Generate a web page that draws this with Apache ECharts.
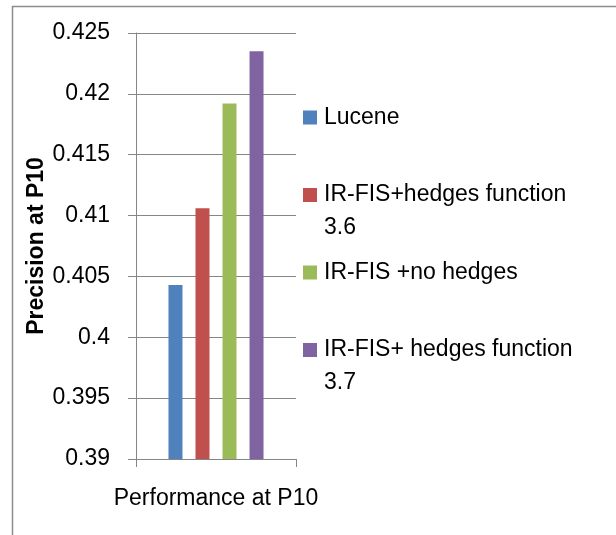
<!DOCTYPE html>
<html>
<head>
<meta charset="utf-8">
<script src="https://cdn.jsdelivr.net/npm/echarts@6/dist/echarts.min.js"></script>
<style>
  html, body { margin: 0; padding: 0; background: #ffffff; }
  #chart { width: 616px; height: 535px; }
</style>
</head>
<body>
<div id="chart"></div>
<script>
// Precision at P10 for each retrieval configuration
const categories = ['Performance at P10'];
const seriesNames = [
  'Lucene',
  'IR-FIS+hedges function 3.6',
  'IR-FIS +no hedges',
  'IR-FIS+ hedges function 3.7'
];
const luceneValues = [0.4043];
const hedges36Values = [0.4106];
const noHedgesValues = [0.4192];
const hedges37Values = [0.4235];
const seriesColors = ['#4F81BD', '#C0504D', '#9BBB59', '#8064A2'];

const FONT = '"Liberation Sans", Arial, sans-serif';
const GRAY = '#868686';
const LINE_H = 33;

const valueSets = [luceneValues, hedges36Values, noHedgesValues, hedges37Values];

// Long names wrap their version number onto a second line; a leading blank
// line keeps the first text line level with the legend swatch.
const legendText = name => {
  const wrapped = name.replace(/ (\d\.\d)$/, '\n$1');
  return wrapped.indexOf('\n') >= 0 ? '\n' + wrapped : wrapped;
};

const chart = echarts.init(document.getElementById('chart'), null, { renderer: 'canvas' });

chart.setOption({
  animation: false,
  backgroundColor: '#ffffff',
  color: seriesColors,
  grid: { left: 136, top: 33, width: 160, height: 426, containLabel: false },
  graphic: [{
    type: 'rect',
    shape: { x: 12.5, y: 6.5, width: 700, height: 700 },
    style: { fill: 'none', stroke: '#8c8c8c', lineWidth: 1.5 },
    silent: true
  }],
  legend: {
    orient: 'vertical',
    left: 303,
    top: 101,
    padding: 0,
    itemWidth: 14,
    itemHeight: 14,
    itemGap: 11.5,
    icon: 'rect',
    formatter: legendText,
    textStyle: { fontFamily: FONT, fontSize: 23, color: '#000000', lineHeight: LINE_H, padding: [0, 0, 0, 2] },
    data: seriesNames
  },
  xAxis: {
    type: 'category',
    data: categories,
    axisLine: { lineStyle: { color: GRAY, width: 1 } },
    axisTick: { show: true, length: 8, lineStyle: { color: GRAY } },
    axisLabel: { fontFamily: FONT, fontSize: 23, color: '#000000', margin: 28 },
    splitLine: { show: false }
  },
  yAxis: {
    type: 'value',
    min: 0.39,
    max: 0.425,
    interval: 0.005,
    name: 'Precision at P10',
    nameLocation: 'middle',
    nameGap: 87,
    nameTextStyle: { fontFamily: FONT, fontSize: 23, fontWeight: 'bold', color: '#000000' },
    axisLine: { show: true, lineStyle: { color: GRAY, width: 1 } },
    axisTick: { show: true, length: 8, lineStyle: { color: GRAY } },
    axisLabel: { fontFamily: FONT, fontSize: 23, color: '#000000', margin: 26 },
    splitLine: { show: true, lineStyle: { color: GRAY, width: 1 } }
  },
  series: seriesNames.map((name, i) => ({
    name: name,
    type: 'bar',
    data: valueSets[i],
    barWidth: 14,
    barGap: '93%',
    itemStyle: { color: seriesColors[i] }
  }))
});
</script>
</body>
</html>
